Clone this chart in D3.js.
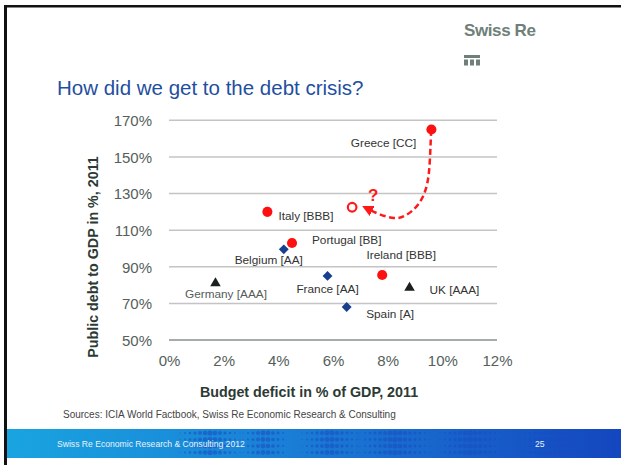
<!DOCTYPE html>
<html>
<head>
<meta charset="utf-8">
<script src="https://cdn.jsdelivr.net/npm/d3@7.9.0/dist/d3.min.js"></script>
<style>
  body { margin: 0; background: #fff; }
  svg { display: block; font-family: "Liberation Sans", Arial, sans-serif; }
</style>
</head>
<body>
<svg id="chart" width="621" height="465"></svg>
<script>
// values
const countries = ['Greece', 'Italy', 'Portugal', 'Ireland', 'Belgium', 'France', 'Spain', 'Germany', 'UK'];
const ratings = ['CC', 'BBB', 'BB', 'BBB', 'AA', 'AA', 'A', 'AAA', 'AAA'];
const deficit = [9.6, 3.6, 4.5, 7.8, 4.2, 5.8, 6.5, 1.7, 8.8];
const debt = [165, 120, 103, 85.5, 99.5, 85, 68, 81, 78.5];
const group = ['red', 'red', 'red', 'red', 'blue', 'blue', 'blue', 'black', 'black'];

const xTicks = [0, 2, 4, 6, 8, 10, 12];
const yTicks = [50, 70, 90, 110, 130, 150, 170];

// Greece path towards the open circle (where Greece might go)
const pathX = [9.59, 9.55, 9.48, 9.18, 8.63, 8.27, 7.72, 7.25];
const pathY = [164.7, 148.3, 134.6, 123.8, 117.2, 116.1, 118.3, 121.8];
const openX = 6.7, openY = 122.5;

// label placement (pixel offsets from each marker)
const labelPos = {
  Greece:   { dx: -15, dy: 17.5, anchor: 'end' },
  Italy:    { dx: 11, dy: 8.5, anchor: 'start' },
  Portugal: { dx: 20, dy: 1, anchor: 'start' },
  Ireland:  { dx: 19, dy: -16, anchor: 'middle' },
  Belgium:  { dx: -15, dy: 14.5, anchor: 'middle' },
  France:   { dx: 0, dy: 17, anchor: 'middle' },
  Spain:    { dx: 19.5, dy: 11, anchor: 'start' },
  Germany:  { dx: 10.5, dy: 14.5, anchor: 'middle' },
  UK:       { dx: 20, dy: 6, anchor: 'start' }
};

const svg = d3.select('#chart');

// frame
svg.append('rect').attr('x', 4).attr('y', 5).attr('width', 617).attr('height', 2.5).attr('fill', '#111');
svg.append('rect').attr('x', 4).attr('y', 5).attr('width', 3).attr('height', 460).attr('fill', '#111');

// logo
svg.append('text').attr('x', 464).attr('y', 35.5)
  .attr('font-size', 17).attr('font-weight', 'bold').attr('fill', '#6e8079')
  .attr('letter-spacing', -0.4).text('Swiss Re');
const logo = svg.append('g').attr('fill', '#6e8079');
logo.append('rect').attr('x', 464).attr('y', 55).attr('width', 16).attr('height', 3);
[464, 470, 476].forEach(px => {
  logo.append('rect').attr('x', px).attr('y', 59.5).attr('width', 4).attr('height', 6);
});

// title
svg.append('text').attr('x', 57).attr('y', 95)
  .attr('font-size', 20.5).attr('fill', '#1f4f9f').text('How did we get to the debt crisis?');

const x = d3.scaleLinear().domain([0, 12]).range([169, 497]);
const y = d3.scaleLinear().domain([50, 170]).range([340, 120.3]);

// grid
svg.append('g').selectAll('line').data(yTicks).join('line')
  .attr('x1', x(0)).attr('x2', x(12))
  .attr('y1', d => y(d)).attr('y2', d => y(d))
  .attr('stroke', d => d === 50 ? '#8a8f8d' : '#c4c4c4')
  .attr('stroke-width', 1.5);

// axes (labels only)
const yAxis = svg.append('g').attr('transform', `translate(${x(0) - 14},0)`)
  .call(d3.axisLeft(y).tickValues(yTicks).tickFormat(d => d + '%').tickSize(0));
const xAxis = svg.append('g').attr('transform', `translate(0,${y(50) + 12})`)
  .call(d3.axisBottom(x).tickValues(xTicks).tickFormat(d => d + '%').tickSize(0));
[yAxis, xAxis].forEach(a => {
  a.select('.domain').remove();
  a.selectAll('text').attr('font-size', 15).attr('fill', '#55605b')
    .attr('font-family', '"Liberation Sans", Arial, sans-serif');
});
yAxis.selectAll('text').attr('dy', '0.36em');
xAxis.selectAll('text').attr('dy', '0.75em');

// axis titles
svg.append('text')
  .attr('transform', `translate(98,${257}) rotate(-90)`)
  .attr('text-anchor', 'middle').attr('font-size', 14.3).attr('font-weight', 'bold')
  .attr('fill', '#2d3a34').text('Public debt to GDP in %, 2011');
svg.append('text').attr('x', 309).attr('y', 397)
  .attr('text-anchor', 'middle').attr('font-size', 14.3).attr('font-weight', 'bold')
  .attr('fill', '#2d3a34').text('Budget deficit in % of GDP, 2011');

// dashed path + arrow
svg.append('defs').append('marker')
  .attr('id', 'arrow').attr('viewBox', '0 0 10 10').attr('refX', 5).attr('refY', 5)
  .attr('markerWidth', 4.5).attr('markerHeight', 4.5).attr('orient', 'auto-start-reverse')
  .append('path').attr('d', 'M0,0L10,5L0,10z').attr('fill', '#ff1a1a');

const pts = pathX.map((v, i) => [x(v), y(pathY[i])]);
svg.append('path')
  .attr('d', d3.line().curve(d3.curveBasis)(pts))
  .attr('fill', 'none').attr('stroke', '#ff1a1a').attr('stroke-width', 2.5)
  .attr('stroke-dasharray', '6,3.5')
  .attr('marker-end', 'url(#arrow)');

svg.append('circle').attr('cx', x(openX)).attr('cy', y(openY)).attr('r', 4.3)
  .attr('fill', '#fff').attr('stroke', '#ff1a1a').attr('stroke-width', 2.2);
svg.append('text').attr('x', x(openX) + 21).attr('y', y(openY) - 6)
  .attr('text-anchor', 'middle').attr('font-size', 17).attr('font-weight', 'bold')
  .attr('fill', '#ff1a1a').text('?');

// markers
const data = countries.map((c, i) => ({ c, r: ratings[i], x: deficit[i], y: debt[i], g: group[i] }));

svg.append('g').selectAll('path').data(data).join('path')
  .attr('transform', d => `translate(${x(d.x)},${y(d.y)})`)
  .attr('d', d => {
    if (d.g === 'red') return d3.symbol(d3.symbolCircle, 80)();
    if (d.g === 'blue') return d3.symbol(d3.symbolDiamond2, 62)();
    return d3.symbol(d3.symbolTriangle, 48)();
  })
  .attr('fill', d => d.g === 'red' ? '#ff1010' : d.g === 'blue' ? '#173f8e' : '#1b1f1d');

svg.append('g').selectAll('text').data(data).join('text')
  .attr('x', d => x(d.x) + labelPos[d.c].dx)
  .attr('y', d => y(d.y) + labelPos[d.c].dy)
  .attr('text-anchor', d => labelPos[d.c].anchor)
  .attr('font-size', 11.8).attr('fill', d => d.c === 'Germany' ? '#555c59' : '#333')
  .text(d => `${d.c} [${d.r}]`);

// sources
svg.append('text').attr('x', 63).attr('y', 418)
  .attr('font-size', 10).attr('fill', '#444').text('Sources: ICIA World Factbook, Swiss Re Economic Research & Consulting');

// footer band
const grad = svg.select('defs').append('linearGradient').attr('id', 'band');
grad.append('stop').attr('offset', '0%').attr('stop-color', '#19a4e0');
grad.append('stop').attr('offset', '45%').attr('stop-color', '#1a7fd6');
grad.append('stop').attr('offset', '100%').attr('stop-color', '#1446bf');
svg.append('rect').attr('x', 7).attr('y', 429).attr('width', 614).attr('height', 29).attr('fill', 'url(#band)');

// decorative dot clusters on the band
const dotClusters = [[210, 30], [265, 22], [330, 28], [395, 35], [470, 30], [560, 40]];
const dots = svg.append('g').attr('fill', '#1a4cc2').attr('opacity', 0.55);
dotClusters.forEach(([cx, w]) => {
  for (let row = 0; row < 4; row++) {
    for (let col = -w; col <= w; col += 5) {
      const k = 1 - Math.abs(col) / w;
      dots.append('circle').attr('cx', cx + col).attr('cy', 433 + row * 6.5)
        .attr('r', 0.6 + 2 * k);
    }
  }
});

svg.append('text').attr('x', 57).attr('y', 447)
  .attr('font-size', 8.6).attr('fill', '#e8f3fb').text('Swiss Re Economic Research & Consulting 2012');
svg.append('text').attr('x', 535).attr('y', 447)
  .attr('font-size', 8.6).attr('fill', '#e8f3fb').text('25');
</script>
</body>
</html>
